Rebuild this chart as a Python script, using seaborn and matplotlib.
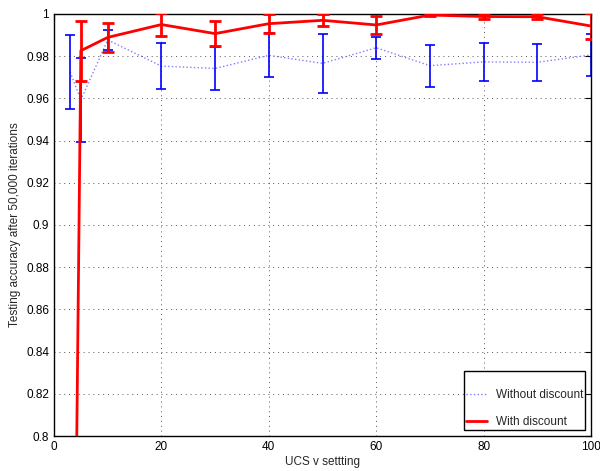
import numpy as np
import pandas as pd
import matplotlib
matplotlib.use("Agg")
import matplotlib.pyplot as plt
import seaborn as sns
from matplotlib.ticker import FuncFormatter

# UCS v settings
v_setting = [3, 5, 10, 20, 30, 40, 50, 60, 70, 80, 90, 100]

# testing accuracy without discount (mean, error half-width)
acc_no_disc = [0.9725, 0.9593, 0.9877, 0.9753, 0.9742, 0.9804, 0.9766, 0.9840,
               0.9755, 0.9773, 0.9771, 0.9806]
err_no_disc = [0.0175, 0.0199, 0.0047, 0.0108, 0.0100, 0.0104, 0.0141, 0.0053,
               0.0099, 0.0091, 0.0087, 0.0099]

# testing accuracy with discount
acc_disc = [0.50, 0.9826, 0.9889, 0.9950, 0.9907, 0.9954, 0.9970, 0.9948,
            0.9995, 0.9988, 0.9987, 0.9943]
err_disc = [0.01, 0.0142, 0.0068, 0.0054, 0.0060, 0.0046, 0.0028, 0.0044,
            0.0005, 0.0012, 0.0012, 0.0061]

df_no = pd.DataFrame({"v": v_setting, "acc": acc_no_disc, "err": err_no_disc})
df_d = pd.DataFrame({"v": v_setting, "acc": acc_disc, "err": err_disc})

sns.set_style("white")
plt.rcParams["font.family"] = ["Liberation Sans", "DejaVu Sans"]
plt.rcParams["font.size"] = 8.5

fig = plt.figure(figsize=(6, 4.71), dpi=100)
ax = fig.add_axes([0.09, 0.0743, 0.895, 0.8960])

# without discount: pale dotted line + solid blue error bars
sns.lineplot(data=df_no, x="v", y="acc", ax=ax, color="#7f7fff", linestyle=":",
             linewidth=1.0, label="Without discount", zorder=2)
ax.errorbar(df_no["v"], df_no["acc"], yerr=df_no["err"], fmt="none",
            ecolor="#0000ff", elinewidth=1.2, capsize=3.6, capthick=1.2, zorder=2)

# with discount: thick red line + red error bars
sns.lineplot(data=df_d, x="v", y="acc", ax=ax, color="#ff0000", linestyle="-",
             linewidth=2.0, label="With discount", zorder=3)
ax.errorbar(df_d["v"], df_d["acc"], yerr=df_d["err"], fmt="none",
            ecolor="#ff0000", elinewidth=2.0, capsize=4.0, capthick=2.0, zorder=3)

ax.set_xlim(0, 100)
ax.set_ylim(0.8, 1.0)
ax.set_xticks([0, 20, 40, 60, 80, 100])
ax.set_yticks(np.round(np.arange(0.8, 1.001, 0.02), 2))
ax.yaxis.set_major_formatter(FuncFormatter(lambda v, p: "%g" % round(v, 2)))
ax.grid(True, linestyle=(0, (1, 4)), color="#555555", linewidth=0.7)
ax.tick_params(direction="in", length=4, width=0.8, top=True, right=True,
               labelsize=8.5, colors="black")
for s in ax.spines.values():
    s.set_color("black")
    s.set_linewidth(1.0)

ax.set_xlabel("UCS v settting", fontsize=8.5, labelpad=2)
ax.set_ylabel("Testing accuracy after 50,000 iterations", fontsize=8.5, labelpad=4)

# matlab style legend: extra room above the entries
leg = ax.legend(loc="lower right", fontsize=8.5, frameon=True, fancybox=False,
                edgecolor="black", framealpha=1, labelspacing=1.3,
                handlelength=1.8, handletextpad=0.75, borderpad=0.15,
                borderaxespad=0.5, title=" ", title_fontsize=1)
leg.get_frame().set_linewidth(1.0)

fig.savefig("out.png", dpi=100)
